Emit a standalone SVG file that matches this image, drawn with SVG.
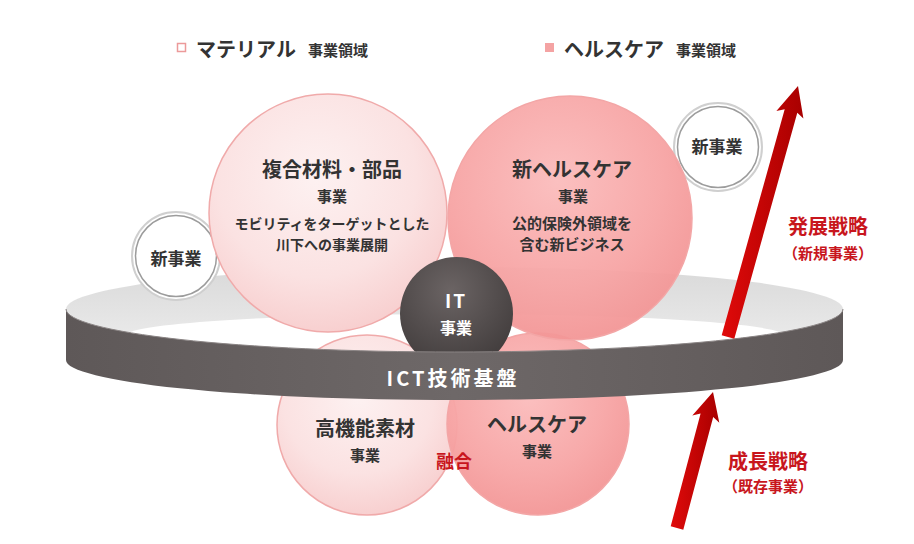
<svg xmlns="http://www.w3.org/2000/svg" width="914" height="544" viewBox="0 0 914 544">
<defs>
<style>
text{font-family:"Noto Sans CJK JP","Noto Sans",sans-serif;font-weight:bold;text-anchor:middle;dominant-baseline:central}
.dk{fill:#333}
.wh{fill:#fff}
.rd{fill:#c8161d}
.ring1{fill:#fff;stroke:#cfcfcf;stroke-width:2}
.ring2{fill:none;stroke:#9c9c9c;stroke-width:1.5}
.lp{fill:url(#gLight);stroke:#f0aaaa;stroke-width:1.5}
.dp{fill:url(#gDark);stroke:#f3a6a6;stroke-width:1.5}
.arr{fill:url(#gArr)}
</style>
<radialGradient id="gLight" cx="0.45" cy="0.35" r="0.7">
<stop offset="0" stop-color="#fdf1f1"/>
<stop offset="0.6" stop-color="#fbe2e2"/>
<stop offset="1" stop-color="#f7cccc"/>
</radialGradient>
<radialGradient id="gDark" cx="0.45" cy="0.35" r="0.7">
<stop offset="0" stop-color="#fbbcbc"/>
<stop offset="0.6" stop-color="#f7a5a5"/>
<stop offset="1" stop-color="#f29393"/>
</radialGradient>
<radialGradient id="gIT" cx="0.45" cy="0.3" r="0.75">
<stop offset="0" stop-color="#6b6464"/>
<stop offset="1" stop-color="#3f3a3a"/>
</radialGradient>
<linearGradient id="gTop" x1="0" y1="0" x2="0" y2="1">
<stop offset="0" stop-color="#d9d9d9"/>
<stop offset="1" stop-color="#ededed"/>
</linearGradient>
<linearGradient id="gBand" x1="0" y1="0" x2="1" y2="0">
<stop offset="0" stop-color="#5e5858"/>
<stop offset="0.5" stop-color="#6e6868"/>
<stop offset="1" stop-color="#5e5858"/>
</linearGradient>
<linearGradient id="gArr" x1="0" y1="0" x2="1" y2="0">
<stop offset="0" stop-color="#e00a0a"/>
<stop offset="1" stop-color="#a80000"/>
</linearGradient>
</defs>
<rect width="914" height="544" fill="#fff"/>

<g id="legend">
<rect x="177.5" y="43.5" width="8" height="8" fill="#fff" stroke="#ec9a9a" stroke-width="1.5"/>
<text x="246" y="48" class="dk" font-size="20">マテリアル</text>
<text x="338" y="49" class="dk" font-size="15">事業領域</text>
<rect x="545" y="43" width="9" height="9" fill="#f4a3a3"/>
<text x="614" y="48" class="dk" font-size="20">ヘルスケア</text>
<text x="706" y="49" class="dk" font-size="15">事業領域</text>
</g>

<g id="ring-back">
<path d="M66 309 A388.5 42 0 0 1 843 309 A388.5 43 0 0 1 66 309 Z" fill="url(#gTop)"/>
<ellipse cx="455" cy="336" rx="330" ry="22" fill="#fff"/>
</g>

<g id="node-material">
<circle cx="367" cy="425" r="90" class="lp"/>
</g>
<g id="node-healthcare">
<circle cx="538" cy="424" r="91" class="dp" fill-opacity="0.95"/>
</g>

<g id="node-new-left">
<circle cx="176" cy="256" r="44" class="ring1"/>
<circle cx="176" cy="256" r="40.5" class="ring2"/>
<text x="176" y="257" class="dk" font-size="17">新事業</text>
</g>
<g id="node-new-right">
<circle cx="718" cy="147" r="44" class="ring1"/>
<circle cx="718" cy="147" r="40.5" class="ring2"/>
<text x="717" y="145" class="dk" font-size="17">新事業</text>
</g>

<g id="node-composite">
<circle cx="328" cy="213" r="119" class="lp"/>
<text x="332" y="168" class="dk" font-size="20">複合材料・部品</text>
<text x="332" y="195" class="dk" font-size="15">事業</text>
<text x="332" y="223" class="dk" font-size="14">モビリティをターゲットとした</text>
<text x="332" y="244" class="dk" font-size="14">川下への事業展開</text>
</g>
<g id="node-new-healthcare">
<circle cx="570" cy="218" r="122" class="dp" fill-opacity="0.95"/>
<text x="572" y="168" class="dk" font-size="20">新ヘルスケア</text>
<text x="573" y="195" class="dk" font-size="15">事業</text>
<text x="572" y="222" class="dk" font-size="15">公的保険外領域を</text>
<text x="572" y="243" class="dk" font-size="15">含む新ビジネス</text>
</g>

<g id="node-it">
<circle cx="456.5" cy="313.5" r="56.5" fill="url(#gIT)"/>
<text x="456" y="299" class="wh" font-size="19" letter-spacing="2">IT</text>
<text x="456" y="327" class="wh" font-size="16">事業</text>
</g>

<g id="node-ict">
<path d="M66 309 A388.5 43 0 0 0 843 309 L843 360 A388.5 40 0 0 1 66 360 Z" fill="url(#gBand)"/>
<path d="M66 309 A388.5 43 0 0 0 843 309" fill="none" stroke="#8a8484" stroke-width="1"/>
<text x="453" y="377" class="wh" font-size="20" letter-spacing="3">ICT技術基盤</text>
</g>

<g id="node-material-text">
<text x="365" y="427" class="dk" font-size="20">高機能素材</text>
<text x="365" y="454" class="dk" font-size="15">事業</text>
</g>
<g id="node-healthcare-text">
<text x="537" y="423" class="dk" font-size="20">ヘルスケア</text>
<text x="537" y="450" class="dk" font-size="15">事業</text>
</g>
<text x="454" y="460" class="rd" font-size="18">融合</text>

<g id="connectors">
<polygon class="arr" points="721.7,335.3 784.7,109.3 776.4,111.1 798,86 803.4,118.6 797.3,112.7 734.3,338.7"/>
<polygon class="arr" points="670.7,526.3 700.6,413.5 692.3,415.5 713,392 719.3,422.7 713.2,416.9 683.3,529.7"/>
</g>

<g id="labels">
<text x="828" y="225" class="rd" font-size="20">発展戦略</text>
<text x="828" y="252" class="rd" font-size="15">（新規事業）</text>
<text x="768" y="460" class="rd" font-size="20">成長戦略</text>
<text x="768" y="485" class="rd" font-size="15">（既存事業）</text>
</g>
</svg>
